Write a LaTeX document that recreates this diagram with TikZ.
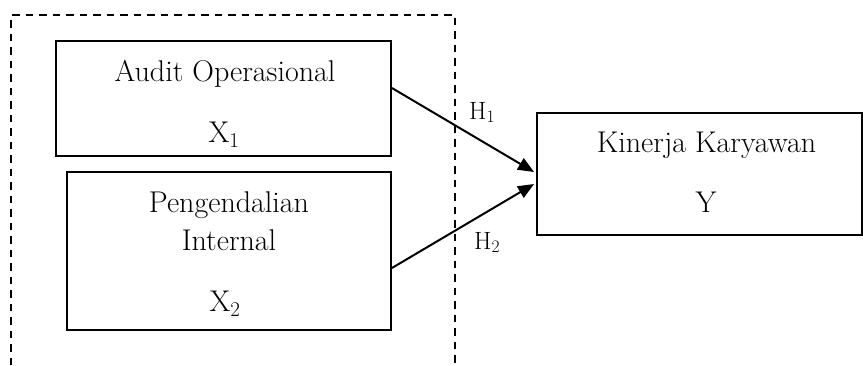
\documentclass[tikz,border=0pt]{standalone}
\usetikzlibrary{arrows.meta}
\begin{document}
\begin{tikzpicture}[x=1pt,y=-1pt,
  box/.style={draw,line width=1.9pt,inner sep=0pt},
  lbl/.style={anchor=base,inner sep=0pt,font=\fontsize{30}{36}\selectfont},
  hlbl/.style={anchor=base west,inner sep=0pt,font=\fontsize{25}{30}\selectfont},
  frame/.style={dash pattern=on 7.5pt off 6pt,line width=1.7pt},
  arr/.style={line width=2pt,-{Triangle[length=16pt,width=13pt]}}]
\useasboundingbox (0,0) rectangle (863,365);
% dashed frame (open at the bottom)
\draw[frame] (11,365) -- (11,15) -- (455,15) -- (455,365);
% boxes
\node[box,minimum width=335pt,minimum height=115pt] (x1) at (223.5,98.5) {};
\node[box,minimum width=324pt,minimum height=158pt] (x2) at (229,251) {};
\node[box,minimum width=325pt,minimum height=122pt] (y) at (699.5,174) {};
% texts
\node[lbl] (t1) at (225,81) {Audit Operasional};
\node[lbl] (t1s) at (224,142) {X\textsubscript{1}};
\node[lbl] (t2a) at (229,212) {Pengendalian};
\node[lbl] (t2b) at (229,250.5) {Internal};
\node[lbl] (t2s) at (225,311.5) {X\textsubscript{2}};
\node[lbl] (t3) at (706.5,152) {Kinerja Karyawan};
\node[lbl] (t3s) at (706,212) {Y};
% arrows
\draw[arr] ([yshift=10.5pt]x1.east) -- ([xshift=-2pt,yshift=2pt]y.west);
\draw[arr] ([yshift=-17pt]x2.east) -- ([xshift=-2pt,yshift=-10pt]y.west);
\node[hlbl] (h1) at (469,119) {H\textsubscript{1}};
\node[hlbl] (h2) at (474,249) {H\textsubscript{2}};
\end{tikzpicture}
\end{document}
